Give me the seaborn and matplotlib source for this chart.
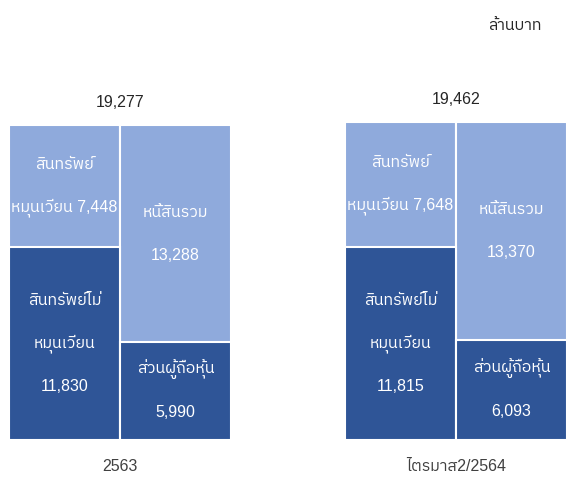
import matplotlib
matplotlib.use('Agg')
import matplotlib.pyplot as plt
import seaborn as sns
import pandas as pd
from matplotlib import font_manager
from matplotlib.ft2font import FT2Font

periods = ['2563', 'ไตรมาส2/2564']
current_assets = [7448, 7648]
noncurrent_assets = [11830, 11815]
liabilities = [13288, 13370]
equity = [5990, 6093]
total_labels = ['19,277', '19,462']
sides = ['assets', 'liab']

LIGHT = '#8FAADC'
DARK = '#2F5597'


def find_thai_font():
    fonts = sorted(font_manager.fontManager.ttflist, key=lambda f: 'Thai' not in f.name)
    for f in fonts:
        try:
            if ord('ก') in FT2Font(f.fname).get_charmap():
                return f.name
        except Exception:
            pass
    return None


sns.set_theme(style='white')
thai = find_thai_font()
plt.rcParams['font.family'] = ['Liberation Sans', thai] if thai else ['Liberation Sans', 'DejaVu Sans']

top = pd.DataFrame({
    'period': periods * 2,
    'side': ['assets'] * 2 + ['liab'] * 2,
    'value': [c + n for c, n in zip(current_assets, noncurrent_assets)]
             + [l + e for l, e in zip(liabilities, equity)],
})
bottom = pd.DataFrame({
    'period': periods * 2,
    'side': ['assets'] * 2 + ['liab'] * 2,
    'value': noncurrent_assets + equity,
})

fig = plt.figure(figsize=(5.66, 4.83), dpi=100)
ax = fig.add_axes([0, 43 / 483, 1, 440 / 483])

for df, col in [(top, LIGHT), (bottom, DARK)]:
    sns.barplot(data=df, x='period', y='value', hue='side', order=periods, hue_order=sides,
                palette={'assets': col, 'liab': col}, width=0.66, saturation=1,
                errorbar=None, edgecolor='white', linewidth=1.5, legend=False, ax=ax)

ax.set_xlim(-120 / 336, 1 + 110 / 336)
ax.set_ylim(0, 26928)
sns.despine(ax=ax, left=True, bottom=True)
ax.set_yticks([])
ax.set_xlabel('')
ax.set_ylabel('')
ax.tick_params(axis='x', length=0, pad=14, labelsize=11.5, labelcolor='#404040')

step = 2630


def put_lines(x, ymid, lines):
    n = len(lines)
    for k, s in enumerate(lines):
        ax.text(x, ymid + (n - 1) / 2 * step - k * step, s, ha='center', va='center',
                color='white', fontsize=11.5)


for i in range(len(periods)):
    xa, xl = i - 0.165, i + 0.165
    nca, ca = noncurrent_assets[i], current_assets[i]
    li, eq = liabilities[i], equity[i]
    put_lines(xa, nca + ca / 2, ['สินทรัพย์', f'หมุนเวียน {ca:,}'])
    put_lines(xa, nca / 2, ['สินทรัพย์ไม่', 'หมุนเวียน', f'{nca:,}'])
    put_lines(xl, eq + li / 2, ['หนี้สินรวม', f'{li:,}'])
    put_lines(xl, eq / 2, ['ส่วนผู้ถือหุ้น', f'{eq:,}'])
    ax.text(i, nca + ca + 1400, total_labels[i], ha='center', va='center',
            color='#262626', fontsize=11.5)

fig.text(515 / 566, 1 - 26 / 483, 'ล้านบาท', ha='center', va='center', fontsize=11.5, color='#262626')

fig.savefig('out.png', dpi=100)
